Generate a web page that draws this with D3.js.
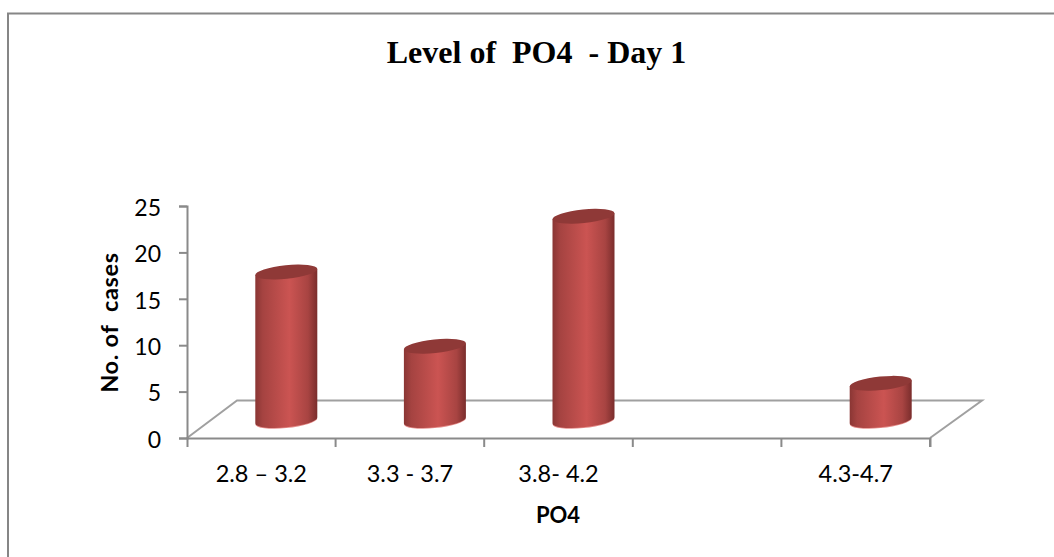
<!DOCTYPE html>
<html>
<head>
<meta charset="utf-8">
<style>
    html, body { margin: 0; padding: 0; background: #fff; }
    svg { display: block; }
    text { white-space: pre; }
</style>
<script src="https://cdn.jsdelivr.net/npm/d3@7"></script>
</head>
<body>
<svg id="chart"></svg>
<script>
const categories = ["2.8 \u2013 3.2", "3.3 - 3.7", "3.8- 4.2", "", "4.3-4.7"];
const cases = [16, 8, 22, 0, 4];
const yTicks = [0, 5, 10, 15, 20, 25];

const chartTitle = "Level of  PO4  - Day 1";
const xAxisLabel = "PO4";
const yAxisLabel = "No. of  cases";

const width = 1054, height = 557;
const margin = { top: 206, right: 124, bottom: 119, left: 187 };
const axisColor = "#8a8a8a";
const labelFont = "Lato, 'Open Sans', sans-serif";

// floor of the 3d plot is drawn as a slanted band behind the axis
const depth = { x: 50, y: -37.5 };
const barRx = 31.15, barRy = 6.8, barTilt = -5.8;
const edge = { x: 31, y: 3 };

const svg = d3.select("#chart")
    .attr("width", width)
    .attr("height", height)
    .attr("viewBox", [0, 0, width, height]);

const xScale = d3.scaleBand()
    .domain(d3.range(categories.length))
    .range([margin.left, width - margin.right]);

const yScale = d3.scaleLinear()
    .domain([0, 25])
    .range([height - margin.bottom, margin.top]);

// Outer frame, only top and left are visible in the picture
svg.append("path")
    .attr("fill", "none")
    .attr("stroke", "#868686")
    .attr("stroke-width", 2)
    .attr("d", `M8,${height} L8,13.5 L${width},13.5`);

// Title
svg.append("text")
    .attr("x", 536.5)
    .attr("y", 63)
    .attr("text-anchor", "middle")
    .attr("font-family", "'Liberation Serif', serif")
    .attr("font-weight", "bold")
    .attr("font-size", 32)
    .attr("fill", "#000")
    .text(chartTitle);

// Floor
const y0 = yScale(0);
const x0 = margin.left, x1 = width - margin.right;
svg.append("path")
    .attr("fill", "none")
    .attr("stroke", "#a0a0a0")
    .attr("stroke-width", 2)
    .attr("d", `M${x0},${y0} L${x0 + depth.x},${y0 + depth.y} L${x1 + depth.x + 2},${y0 + depth.y} L${x1},${y0}`);

// Gradient for the cylinder side
const defs = svg.append("defs");
const sideGrad = defs.append("linearGradient")
    .attr("id", "barSide")
    .attr("x1", 0).attr("x2", 1).attr("y1", 0).attr("y2", 0);
[[0, "#8a3634"], [0.12, "#a54341"], [0.55, "#cb5452"], [0.85, "#a84442"], [1, "#7a2d2c"]]
    .forEach(s => sideGrad.append("stop").attr("offset", s[0]).attr("stop-color", s[1]));

// Bars
const bars = svg.append("g").attr("class", "bars")
    .selectAll("g")
    .data(cases.map((v, i) => ({ v, i })).filter(d => d.v > 0))
    .join("g")
    .attr("transform", d => `translate(${xScale(d.i) + xScale.bandwidth() / 2 + depth.x / 2},${depth.y / 2 + 1.2})`);

// thin light rim under the body
bars.append("path")
    .attr("fill", "#e58d8b")
    .attr("d", `M${-edge.x},${y0 + edge.y} A${barRx},${barRy} ${barTilt} 0 0 ${edge.x},${y0 - edge.y} Z`)
    .attr("transform", "translate(0,0.8)");

bars.append("path")
    .attr("fill", "url(#barSide)")
    .attr("d", d => {
        const top = yScale(d.v);
        return `M${-edge.x},${top + edge.y} L${-edge.x},${y0 + edge.y} A${barRx},${barRy} ${barTilt} 0 0 ${edge.x},${y0 - edge.y} L${edge.x},${top - edge.y} Z`;
    });

bars.append("ellipse")
    .attr("rx", barRx)
    .attr("ry", barRy)
    .attr("fill", "#8f3937")
    .attr("transform", d => `translate(0,${yScale(d.v)}) rotate(${barTilt})`);

// Y axis
const yAxisGroup = svg.append("g")
    .attr("transform", `translate(${margin.left},0)`)
    .call(d3.axisLeft(yScale).tickValues(yTicks).tickSize(8).tickSizeOuter(8).tickPadding(18));

// X axis
const xAxisGroup = svg.append("g")
    .attr("transform", `translate(0,${y0})`)
    .call(d3.axisBottom(xScale).tickFormat(i => categories[i]).tickSize(0).tickSizeOuter(9).tickPadding(27));

xAxisGroup.selectAll("g.tick")
    .append("line")
    .attr("x1", xScale.bandwidth() / 2)
    .attr("x2", xScale.bandwidth() / 2)
    .attr("y2", 9);

[yAxisGroup, xAxisGroup].forEach(g => {
    g.selectAll("path, line")
        .attr("stroke", axisColor)
        .attr("stroke-width", 2);
    g.selectAll("text")
        .attr("font-family", labelFont)
        .attr("fill", "#000");
});
yAxisGroup.selectAll("text").attr("font-size", 23).attr("dy", "0.4em");
xAxisGroup.selectAll("text").attr("font-size", 23.5);

// Axis labels
svg.append("text")
    .attr("x", 558)
    .attr("y", 523)
    .attr("text-anchor", "middle")
    .attr("font-family", labelFont)
    .attr("font-weight", "bold")
    .attr("font-size", 22)
    .attr("fill", "#000")
    .text(xAxisLabel);

svg.append("text")
    .attr("transform", "translate(118,322.5) rotate(-90)")
    .attr("text-anchor", "middle")
    .attr("font-family", labelFont)
    .attr("font-weight", "bold")
    .attr("font-size", 23.5)
    .attr("letter-spacing", 0.7)
    .attr("fill", "#000")
    .text(yAxisLabel);
</script>
</body>
</html>
